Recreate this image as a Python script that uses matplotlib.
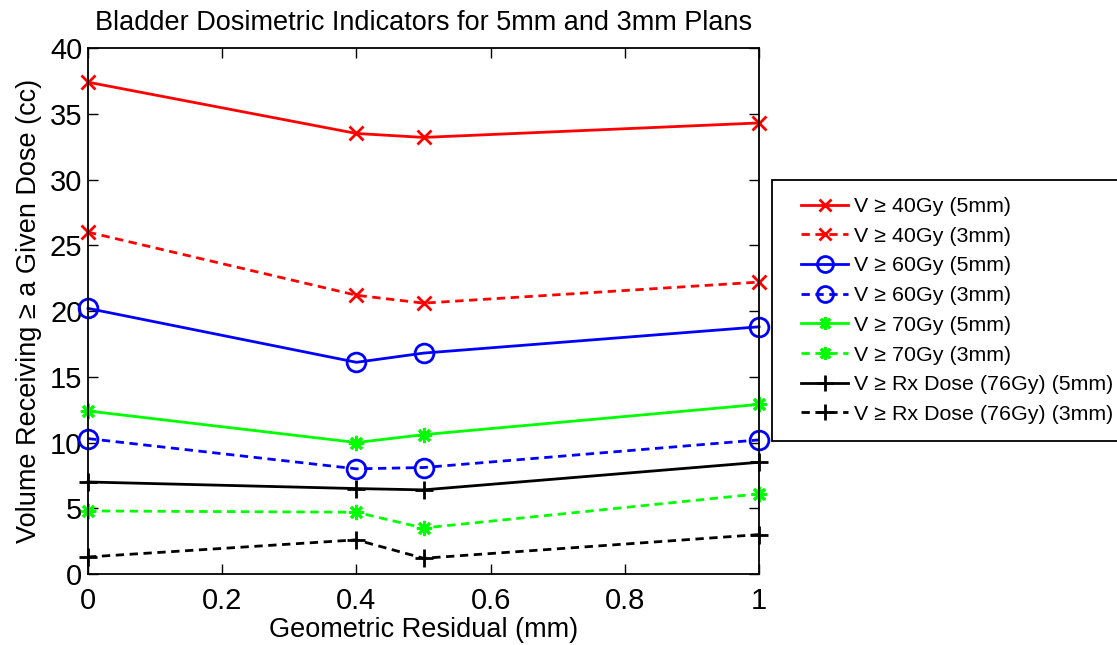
import matplotlib
matplotlib.use("Agg")
import matplotlib.pyplot as plt
from matplotlib.patches import Rectangle

plt.rcParams['font.family'] = ['Liberation Sans', 'DejaVu Sans']

residual = [0, 0.4, 0.5, 1.0]

v40_5mm = [37.4, 33.5, 33.2, 34.3]
v40_3mm = [26.0, 21.2, 20.6, 22.2]
v60_5mm = [20.2, 16.1, 16.8, 18.8]
v60_3mm = [10.3, 8.0, 8.1, 10.2]
v70_5mm = [12.4, 10.0, 10.6, 12.9]
v70_3mm = [4.8, 4.7, 3.5, 6.1]
vrx_5mm = [7.0, 6.5, 6.4, 8.5]
vrx_3mm = [1.3, 2.6, 1.2, 3.0]

labels = [
    "V \u2265 40Gy (5mm)", "V \u2265 40Gy (3mm)",
    "V \u2265 60Gy (5mm)", "V \u2265 60Gy (3mm)",
    "V \u2265 70Gy (5mm)", "V \u2265 70Gy (3mm)",
    "V \u2265 Rx Dose (76Gy) (5mm)", "V \u2265 Rx Dose (76Gy) (3mm)",
]
xticks = [0, 0.2, 0.4, 0.6, 0.8, 1.0]
xtick_labels = ["0", "0.2", "0.4", "0.6", "0.8", "1"]
yticks = [0, 5, 10, 15, 20, 25, 30, 35, 40]

fig = plt.figure(figsize=(11.17, 6.45), dpi=100)
ax = fig.add_axes([0.0788, 0.110, 0.6007, 0.8156])

star = (8, 2, 0)
series = [
    (v40_5mm, 'red', '-', 'x', 9.5),
    (v40_3mm, 'red', '--', 'x', 9.5),
    (v60_5mm, 'blue', '-', 'o', 13.5),
    (v60_3mm, 'blue', '--', 'o', 13.5),
    (v70_5mm, '#00ff00', '-', star, 11),
    (v70_3mm, '#00ff00', '--', star, 11),
    (vrx_5mm, 'black', '-', '+', 13),
    (vrx_3mm, 'black', '--', '+', 13),
]
handles = []
for vals, col, ls, mk, ms in series:
    h, = ax.plot(residual, vals, color=col, linestyle=ls, linewidth=2,
                 marker=mk, markersize=ms, markeredgewidth=2,
                 markerfacecolor='none', markeredgecolor=col)
    if ls == '--':
        h.set_dashes((3, 2))
    h.set_clip_on(False)
    handles.append(h)

ax.set_xlim(0, 1)
ax.set_ylim(0, 40)
ax.set_xticks(xticks)
ax.set_xticklabels(xtick_labels)
ax.set_yticks(yticks)
ax.tick_params(direction='in', top=True, right=True, length=7, width=1,
               labelsize=21, pad=4)
ax.tick_params(axis='x', pad=9)
for sp in ax.spines.values():
    sp.set_linewidth(1.3)

ax.set_title("Bladder Dosimetric Indicators for 5mm and 3mm Plans",
             fontsize=19.5, pad=13)
ax.set_xlabel("Geometric Residual (mm)", fontsize=19.5, labelpad=2)
ax.set_ylabel("Volume Receiving \u2265 a Given Dose (cc)", fontsize=19.5,
              labelpad=6)

# Legend entries, with a separate box that runs past the right figure edge
box_left = 0.691
leg = fig.legend(handles, labels, loc='upper left',
                 bbox_to_anchor=(0.702, 0.721), borderaxespad=0,
                 fontsize=15.4, frameon=False, handlelength=2.2,
                 handletextpad=0.25, labelspacing=0.5, borderpad=0.8,
                 markerscale=0.85)
fig.canvas.draw()
ext = leg.get_window_extent().transformed(fig.transFigure.inverted())
fig.add_artist(Rectangle((box_left, ext.y0), 1.05 - box_left,
                         ext.y1 - ext.y0, transform=fig.transFigure,
                         facecolor='white', edgecolor='black', linewidth=1.3,
                         zorder=leg.get_zorder() - 0.1))

fig.savefig("out.png", dpi=100)
